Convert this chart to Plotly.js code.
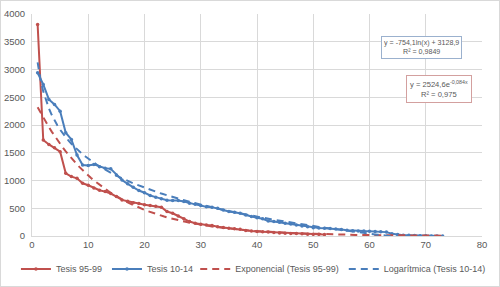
<!DOCTYPE html>
<html>
<head>
<meta charset="utf-8">
<script src="https://cdn.plot.ly/plotly-3.0.1.min.js"></script>
<style>
  html, body { margin: 0; padding: 0; background: #fff; }
  #chart { width: 498px; height: 285px; border: 1px solid #d9d9d9; }
</style>
</head>
<body>
<div id="chart"></div>
<script>
// Number of theses per rank, two periods
const xRed = Array.from({length: 52}, (_, i) => i + 1);
const tesis9599 = [
  3810, 1730, 1650, 1590, 1520, 1130, 1070, 1040, 950, 915,
  865, 825, 800, 765, 710, 650, 625, 600, 585, 565,
  550, 535, 520, 440, 410, 360, 310, 260, 230, 210,
  200, 190, 165, 155, 140, 130, 120, 100, 90, 80,
  75, 72, 65, 55, 48, 45, 43, 40, 33, 30,
  30, 28
];
const xBlue = Array.from({length: 73}, (_, i) => i + 1);
const tesis1014 = [
  2940, 2730, 2460, 2370, 2250, 1860, 1740, 1460, 1280, 1270,
  1290, 1250, 1220, 1210, 1100, 1010, 940, 880, 820, 780,
  730, 700, 670, 645, 640, 640, 620, 590, 570, 550,
  525, 520, 500, 470, 440, 430, 410, 380, 350, 330,
  310, 270, 260, 250, 230, 215, 200, 180, 165, 150,
  145, 140, 135, 125, 115, 105, 95, 90, 88, 85,
  80, 78, 70, 40, 25, 15, 12, 8, 5, 3,
  2, 0, 0
];

// Trendline coefficients as printed in the equation boxes
const expCoef = [2524.6, -0.084];      // y = a * e^(b x)
const logCoef = [-754.1, 3128.9];      // y = a ln(x) + b
const trendX = [];
for (let x = 1; x <= 73.0001; x += 0.5) trendX.push(x);
const expY = trendX.map(x => expCoef[0] * Math.exp(expCoef[1] * x));
const logY = trendX.map(x => logCoef[0] * Math.log(x) + logCoef[1]);

const xTicks = [0, 10, 20, 30, 40, 50, 60, 70, 80];
const yTicks = [0, 500, 1000, 1500, 2000, 2500, 3000, 3500, 4000];

const RED = '#C0504D';
const BLUE = '#4A7EBB';
const TXT = '#595959';
const GRID = '#d9d9d9';
const FONT = 'Liberation Sans, Arial, sans-serif';

const traces = [
  {x: xRed, y: tesis9599, name: 'Tesis 95-99', type: 'scatter', mode: 'lines+markers',
   line: {color: RED, width: 2}, marker: {color: RED, size: 3.5}, legend: 'legend'},
  {x: xBlue, y: tesis1014, name: 'Tesis 10-14', type: 'scatter', mode: 'lines+markers',
   line: {color: BLUE, width: 2}, marker: {color: BLUE, size: 3.5}, legend: 'legend'},
  {x: trendX, y: expY, name: 'Exponencial (Tesis 95-99)', type: 'scatter', mode: 'lines',
   line: {color: RED, width: 2, dash: '7px,5px'}, legend: 'legend2'},
  {x: trendX, y: logY, name: 'Logarítmica (Tesis 10-14)', type: 'scatter', mode: 'lines',
   line: {color: BLUE, width: 2, dash: '7px,5px'}, legend: 'legend2'}
];

const legendBase = {
  orientation: 'h', xref: 'container', yref: 'container',
  xanchor: 'left', y: 0.06, yanchor: 'middle',
  font: {family: FONT, size: 9, color: TXT}, itemwidth: 30,
  tracegroupgap: 0, bgcolor: 'rgba(0,0,0,0)'
};

const layout = {
  width: 498, height: 285,
  margin: {l: 31, r: 17, t: 13, b: 50, autoexpand: false},
  paper_bgcolor: '#fff', plot_bgcolor: '#fff',
  font: {family: FONT, size: 9.5, color: TXT},
  showlegend: true,
  legend: Object.assign({}, legendBase, {x: 0.03}),
  legend2: Object.assign({}, legendBase, {x: 0.39}),
  xaxis: {range: [0, 80], tickvals: xTicks, ticktext: xTicks.map(String),
          showgrid: true, gridcolor: GRID, gridwidth: 1, zeroline: false,
          showline: true, linecolor: GRID, linewidth: 1, ticks: '', mirror: false},
  yaxis: {range: [0, 4000], tickvals: yTicks, ticktext: yTicks.map(String),
          showgrid: true, gridcolor: GRID, gridwidth: 1, zeroline: false,
          showline: true, linecolor: GRID, linewidth: 1, ticks: '', ticklabelstandoff: 4},
  annotations: [
    {x: 69.3, y: 3400, xref: 'x', yref: 'y', showarrow: false,
     text: 'y = -754,1ln(x) + 3128,9<br>R² = 0,9849', align: 'center',
     font: {family: FONT, size: 7.1, color: TXT},
     bordercolor: '#9BB1CE', borderwidth: 1, borderpad: 2, bgcolor: '#fff'},
    {x: 72.4, y: 2655, xref: 'x', yref: 'y', showarrow: false,
     text: 'y = 2524,6e<sup>-0,084x</sup><br>R² = 0,975', align: 'center',
     font: {family: FONT, size: 7.6, color: TXT},
     bordercolor: '#D3A09F', borderwidth: 1, borderpad: 3, bgcolor: '#fff'}
  ]
};

Plotly.newPlot('chart', traces, layout, {displayModeBar: false, staticPlot: true});
</script>
</body>
</html>
